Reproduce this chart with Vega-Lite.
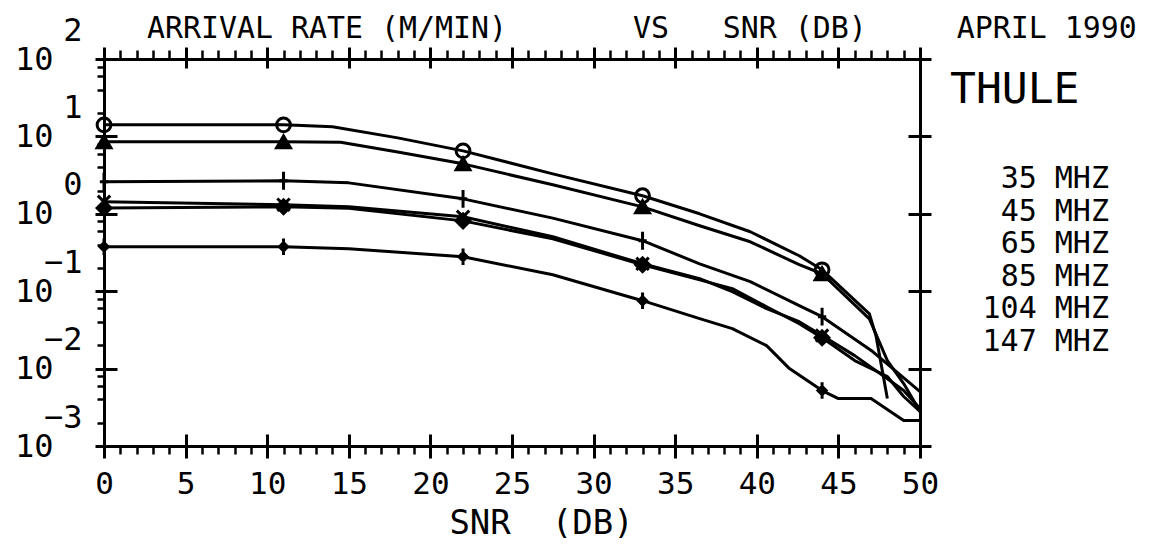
{
  "$schema": "https://vega.github.io/schema/vega-lite/v6.json",
  "autosize": {"type": "none"},
  "width": 816,
  "height": 387,
  "padding": {"left": 104, "top": 59, "right": 237, "bottom": 98},
  "background": "white",
  "config": {
    "view": {"stroke": null},
    "font": "DejaVu Sans Mono",
    "axis": {"grid": false, "domainColor": "black", "tickColor": "black", "labelColor": "black", "titleColor": "black", "tickWidth": 3, "domainWidth": 3, "labelFont": "DejaVu Sans Mono", "titleFont": "DejaVu Sans Mono", "labelFlush": false, "labelOverlap": false, "titleFontWeight": "normal"}
  },
  "title": {
    "text": "ARRIVAL\u00a0RATE\u00a0(M/MIN)\u00a0\u00a0\u00a0\u00a0\u00a0\u00a0\u00a0VS\u00a0\u00a0\u00a0SNR\u00a0(DB)\u00a0\u00a0\u00a0\u00a0\u00a0APRIL\u00a01990",
    "anchor": "start", "frame": "group", "dx": 43, "offset": -54, "baseline": "alphabetic",
    "font": "DejaVu Sans Mono", "fontSize": 29.9, "fontWeight": "normal", "color": "black"
  },
  "data": {"values": [
    {"f": "35 MHZ", "snr": 0, "r": 14.1, "m": 1},
    {"f": "35 MHZ", "snr": 11, "r": 14.1, "m": 1},
    {"f": "35 MHZ", "snr": 14, "r": 13.3, "m": 0},
    {"f": "35 MHZ", "snr": 18, "r": 9.57, "m": 0},
    {"f": "35 MHZ", "snr": 22, "r": 6.5, "m": 1},
    {"f": "35 MHZ", "snr": 27.5, "r": 3.28, "m": 0},
    {"f": "35 MHZ", "snr": 33, "r": 1.71, "m": 1},
    {"f": "35 MHZ", "snr": 36.5, "r": 1.0, "m": 0},
    {"f": "35 MHZ", "snr": 39.6, "r": 0.586, "m": 0},
    {"f": "35 MHZ", "snr": 42.6, "r": 0.287, "m": 0},
    {"f": "35 MHZ", "snr": 44, "r": 0.189, "m": 1},
    {"f": "35 MHZ", "snr": 46.9, "r": 0.051, "m": 0},
    {"f": "35 MHZ", "snr": 47.3, "r": 0.0267, "m": 0},
    {"f": "35 MHZ", "snr": 48, "r": 0.0041, "m": 0},
    {"f": "45 MHZ", "snr": 0, "r": 8.5, "m": 1},
    {"f": "45 MHZ", "snr": 11, "r": 8.5, "m": 1},
    {"f": "45 MHZ", "snr": 14.5, "r": 8.4, "m": 0},
    {"f": "45 MHZ", "snr": 18, "r": 6.3, "m": 0},
    {"f": "45 MHZ", "snr": 22, "r": 4.42, "m": 1},
    {"f": "45 MHZ", "snr": 27.5, "r": 2.37, "m": 0},
    {"f": "45 MHZ", "snr": 33, "r": 1.23, "m": 1},
    {"f": "45 MHZ", "snr": 36.5, "r": 0.7, "m": 0},
    {"f": "45 MHZ", "snr": 39.6, "r": 0.435, "m": 0},
    {"f": "45 MHZ", "snr": 42.6, "r": 0.22, "m": 0},
    {"f": "45 MHZ", "snr": 44, "r": 0.168, "m": 1},
    {"f": "45 MHZ", "snr": 46.9, "r": 0.044, "m": 0},
    {"f": "45 MHZ", "snr": 48, "r": 0.0127, "m": 0},
    {"f": "45 MHZ", "snr": 49, "r": 0.0064, "m": 0},
    {"f": "45 MHZ", "snr": 50, "r": 0.0028, "m": 0},
    {"f": "65 MHZ", "snr": 0, "r": 2.59, "m": 1},
    {"f": "65 MHZ", "snr": 11, "r": 2.67, "m": 1},
    {"f": "65 MHZ", "snr": 15, "r": 2.51, "m": 0},
    {"f": "65 MHZ", "snr": 22, "r": 1.56, "m": 1},
    {"f": "65 MHZ", "snr": 27.5, "r": 0.88, "m": 0},
    {"f": "65 MHZ", "snr": 33, "r": 0.449, "m": 1},
    {"f": "65 MHZ", "snr": 36.5, "r": 0.226, "m": 0},
    {"f": "65 MHZ", "snr": 39.6, "r": 0.133, "m": 0},
    {"f": "65 MHZ", "snr": 42.6, "r": 0.065, "m": 0},
    {"f": "65 MHZ", "snr": 44, "r": 0.0469, "m": 1},
    {"f": "65 MHZ", "snr": 47.1, "r": 0.0166, "m": 0},
    {"f": "65 MHZ", "snr": 50, "r": 0.00505, "m": 0},
    {"f": "85 MHZ", "snr": 0, "r": 1.43, "m": 1},
    {"f": "85 MHZ", "snr": 11, "r": 1.31, "m": 1},
    {"f": "85 MHZ", "snr": 15, "r": 1.23, "m": 0},
    {"f": "85 MHZ", "snr": 22, "r": 0.914, "m": 1},
    {"f": "85 MHZ", "snr": 27.5, "r": 0.505, "m": 0},
    {"f": "85 MHZ", "snr": 33, "r": 0.226, "m": 1},
    {"f": "85 MHZ", "snr": 36.5, "r": 0.145, "m": 0},
    {"f": "85 MHZ", "snr": 38.5, "r": 0.0986, "m": 0},
    {"f": "85 MHZ", "snr": 40.6, "r": 0.0594, "m": 0},
    {"f": "85 MHZ", "snr": 42.6, "r": 0.0404, "m": 0},
    {"f": "85 MHZ", "snr": 44, "r": 0.0267, "m": 1},
    {"f": "85 MHZ", "snr": 46, "r": 0.0147, "m": 0},
    {"f": "85 MHZ", "snr": 48, "r": 0.0074, "m": 0},
    {"f": "85 MHZ", "snr": 49, "r": 0.0052, "m": 0},
    {"f": "85 MHZ", "snr": 50, "r": 0.00305, "m": 0},
    {"f": "104 MHZ", "snr": 0, "r": 1.19, "m": 1},
    {"f": "104 MHZ", "snr": 11, "r": 1.23, "m": 1},
    {"f": "104 MHZ", "snr": 15, "r": 1.18, "m": 0},
    {"f": "104 MHZ", "snr": 22, "r": 0.81, "m": 1},
    {"f": "104 MHZ", "snr": 27.5, "r": 0.475, "m": 0},
    {"f": "104 MHZ", "snr": 33, "r": 0.22, "m": 1},
    {"f": "104 MHZ", "snr": 36.5, "r": 0.14, "m": 0},
    {"f": "104 MHZ", "snr": 38.5, "r": 0.108, "m": 0},
    {"f": "104 MHZ", "snr": 40.6, "r": 0.063, "m": 0},
    {"f": "104 MHZ", "snr": 42.6, "r": 0.038, "m": 0},
    {"f": "104 MHZ", "snr": 44, "r": 0.0251, "m": 1},
    {"f": "104 MHZ", "snr": 46, "r": 0.0127, "m": 0},
    {"f": "104 MHZ", "snr": 48, "r": 0.0079, "m": 0},
    {"f": "104 MHZ", "snr": 49, "r": 0.00436, "m": 0},
    {"f": "104 MHZ", "snr": 50, "r": 0.0028, "m": 0},
    {"f": "147 MHZ", "snr": 0, "r": 0.375, "m": 1},
    {"f": "147 MHZ", "snr": 11, "r": 0.375, "m": 1},
    {"f": "147 MHZ", "snr": 15, "r": 0.353, "m": 0},
    {"f": "147 MHZ", "snr": 22, "r": 0.279, "m": 1},
    {"f": "147 MHZ", "snr": 27.5, "r": 0.163, "m": 0},
    {"f": "147 MHZ", "snr": 33, "r": 0.0754, "m": 1},
    {"f": "147 MHZ", "snr": 36.5, "r": 0.0442, "m": 0},
    {"f": "147 MHZ", "snr": 38.5, "r": 0.0328, "m": 0},
    {"f": "147 MHZ", "snr": 40.6, "r": 0.0198, "m": 0},
    {"f": "147 MHZ", "snr": 42, "r": 0.01, "m": 0},
    {"f": "147 MHZ", "snr": 44, "r": 0.0052, "m": 1},
    {"f": "147 MHZ", "snr": 45, "r": 0.0041, "m": 0},
    {"f": "147 MHZ", "snr": 47, "r": 0.0041, "m": 0},
    {"f": "147 MHZ", "snr": 49, "r": 0.00213, "m": 0},
    {"f": "147 MHZ", "snr": 50, "r": 0.00213, "m": 0}
  ]},
  "resolve": {"axis": {"x": "independent", "y": "independent"}},
  "layer": [
    {
      "mark": {"type": "line", "color": "black", "strokeWidth": 3, "strokeJoin": "round"},
      "encoding": {
        "x": {"field": "snr", "type": "quantitative", "scale": {"domain": [0, 50], "nice": false, "zero": false},
          "axis": {"orient": "bottom", "values": [0, 5, 10, 15, 20, 25, 30, 35, 40, 45, 50], "tickSize": 12, "labelFontSize": 31, "labelBaseline": "alphabetic", "labelPadding": 35,
            "title": "SNR\u00a0\u00a0(DB)", "titleFontSize": 34, "titleX": 437, "titleY": 87, "titleAlign": "center", "titleBaseline": "alphabetic"}},
        "y": {"field": "r", "type": "quantitative", "scale": {"type": "log", "domain": [0.001, 100], "nice": false},
          "axis": {"orient": "left", "values": [0.001, 0.01, 0.1, 1, 10, 100], "labelExpr": "'10'", "tickSize": 9, "labelFontSize": 32, "labelPadding": 42, "labelBaseline": "middle", "title": null}},
        "detail": {"field": "f"}
      }
    },
    {
      "transform": [{"filter": "datum.m == 1"}],
      "mark": {"type": "point", "stroke": "black", "strokeWidth": 3, "opacity": 1, "size": 190},
      "encoding": {
        "x": {"field": "snr", "type": "quantitative", "scale": {"domain": [0, 50], "nice": false, "zero": false},
          "axis": {"orient": "bottom", "offset": -12, "values": [0, 5, 10, 15, 20, 25, 30, 35, 40, 45, 50], "tickSize": 12, "labels": false, "domain": false, "title": null}},
        "y": {"field": "r", "type": "quantitative", "scale": {"type": "log", "domain": [0.001, 100], "nice": false},
          "axis": {"orient": "left", "offset": -13, "values": [0.001, 0.01, 0.1, 1, 10, 100], "tickSize": 13, "labels": false, "domain": false, "title": null}},
        "shape": {"field": "f", "type": "nominal",
          "scale": {"domain": ["35 MHZ", "45 MHZ", "65 MHZ", "85 MHZ", "104 MHZ", "147 MHZ"],
            "range": ["circle", "triangle-up", "M0,-1.3L0,1.3M-0.6,0L0.6,0", "M-0.9,-0.9L0.9,0.9M-0.9,0.9L0.9,-0.9", "diamond", "M0,-1.2L0,1.2M-0.6,0L0,-0.6L0.6,0L0,0.6Z"]},
          "legend": {"title": "THULE", "orient": "none", "legendX": 846, "legendY": 10, "padding": 0,
            "titleFont": "DejaVu Sans Mono", "titleFontSize": 43, "titleFontWeight": "normal", "titleColor": "black", "titlePadding": 52,
            "labelFont": "DejaVu Sans Mono", "labelFontSize": 30, "labelColor": "black", "labelLimit": 400, "labelOffset": 129, "labelAlign": "right",
            "symbolOpacity": 0, "symbolSize": 1, "symbolStrokeWidth": 0, "rowPadding": 2.5}},
        "fill": {"field": "f", "type": "nominal", "legend": null,
          "scale": {"domain": ["35 MHZ", "45 MHZ", "65 MHZ", "85 MHZ", "104 MHZ", "147 MHZ"], "range": ["transparent", "black", "transparent", "transparent", "black", "black"]}}
      }
    },
    {
      "mark": {"type": "point", "opacity": 0},
      "encoding": {
        "x": {"field": "snr", "type": "quantitative", "scale": {"domain": [0, 50], "nice": false, "zero": false},
          "axis": {"orient": "bottom", "values": [1, 2, 3, 4, 6, 7, 8, 9, 11, 12, 13, 14, 16, 17, 18, 19, 21, 22, 23, 24, 26, 27, 28, 29, 31, 32, 33, 34, 36, 37, 38, 39, 41, 42, 43, 44, 46, 47, 48, 49], "tickSize": 8, "tickWidth": 2.5, "labels": false, "domain": false, "title": null}},
        "y": {"field": "r", "type": "quantitative", "scale": {"type": "log", "domain": [0.001, 100], "nice": false},
          "axis": {"orient": "left", "values": [0.002, 0.004, 0.006, 0.008, 0.02, 0.04, 0.06, 0.08, 0.2, 0.4, 0.6, 0.8, 2, 4, 6, 8, 20, 40, 60, 80], "tickSize": 7, "tickWidth": 2.5, "labels": false, "domain": false, "title": null}}
      }
    },
    {
      "mark": {"type": "point", "opacity": 0},
      "encoding": {
        "x": {"field": "snr", "type": "quantitative", "scale": {"domain": [0, 50], "nice": false, "zero": false},
          "axis": {"orient": "top", "values": [0, 5, 10, 15, 20, 25, 30, 35, 40, 45, 50], "tickSize": 12, "labels": false, "title": null}},
        "y": {"field": "r", "type": "quantitative", "scale": {"type": "log", "domain": [0.001, 100], "nice": false},
          "axis": {"orient": "left", "values": [0.001, 0.01, 0.1, 1, 10, 100], "ticks": false, "tickSize": 0, "domain": false, "labelExpr": "format(log(datum.value)/LN10, 'd')", "labelFontSize": 32, "labelPadding": 22, "labelOffset": -29, "labelBaseline": "middle", "title": null}}
      }
    },
    {
      "mark": {"type": "point", "opacity": 0},
      "encoding": {
        "x": {"field": "snr", "type": "quantitative", "scale": {"domain": [0, 50], "nice": false, "zero": false},
          "axis": {"orient": "top", "offset": -9, "values": [0, 5, 10, 15, 20, 25, 30, 35, 40, 45, 50], "tickSize": 9, "labels": false, "domain": false, "title": null}},
        "y": {"field": "r", "type": "quantitative", "scale": {"type": "log", "domain": [0.001, 100], "nice": false},
          "axis": {"orient": "right", "values": [0.001, 0.01, 0.1, 1, 10, 100], "tickSize": 11, "labels": false, "title": null}}
      }
    },
    {
      "mark": {"type": "point", "opacity": 0},
      "encoding": {
        "x": {"field": "snr", "type": "quantitative", "scale": {"domain": [0, 50], "nice": false, "zero": false},
          "axis": {"orient": "top", "values": [1, 2, 3, 4, 6, 7, 8, 9, 11, 12, 13, 14, 16, 17, 18, 19, 21, 22, 23, 24, 26, 27, 28, 29, 31, 32, 33, 34, 36, 37, 38, 39, 41, 42, 43, 44, 46, 47, 48, 49], "tickSize": 9, "tickWidth": 2.5, "labels": false, "domain": false, "title": null}},
        "y": {"field": "r", "type": "quantitative", "scale": {"type": "log", "domain": [0.001, 100], "nice": false},
          "axis": {"orient": "right", "offset": -12, "values": [0.001, 0.01, 0.1, 1, 10, 100], "tickSize": 12, "labels": false, "domain": false, "title": null}}
      }
    }
  ]
}
